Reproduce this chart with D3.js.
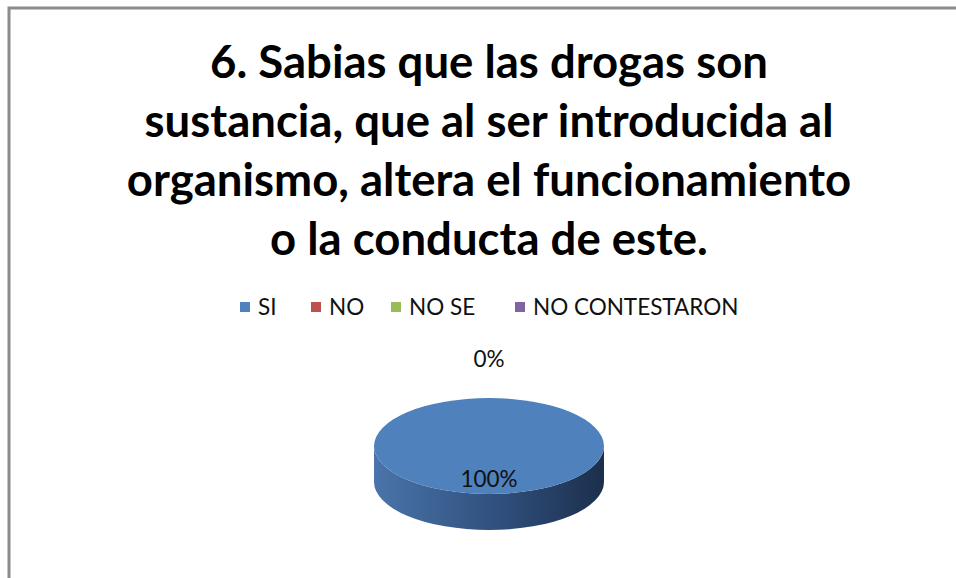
<!DOCTYPE html>
<html>
<head>
<meta charset="utf-8">
<script src="https://cdn.jsdelivr.net/npm/d3@7"></script>
<style>
  body { margin: 0; background: #fff; }
  svg { display: block; font-family: Lato, "Open Sans", sans-serif; }
</style>
</head>
<body>
<svg></svg>
<script>
const categories = ["SI", "NO", "NO SE", "NO CONTESTARON"];
const values = [100, 0, 0, 0];
const colors = ["#4F81BD", "#C0504D", "#9BBB59", "#8064A2"];
const titleLines = [
  "6. Sabias que las drogas son",
  "sustancia, que al ser introducida al",
  "organismo, altera el funcionamiento",
  "o la conducta de este."
];

const width = 956;
const height = 578;

const svg = d3.select("svg")
  .attr("width", width)
  .attr("height", height);

// frame (only top and left edges visible)
svg.append("path")
  .attr("d", `M9,${height} V8 H${width}`)
  .attr("fill", "none")
  .attr("stroke", "#8c8c8c")
  .attr("stroke-width", 3);

// title
svg.append("text")
  .attr("text-anchor", "middle")
  .attr("font-weight", "bold")
  .attr("font-size", 45.5)
  .attr("fill", "#000")
  .selectAll("tspan")
  .data(titleLines)
  .enter().append("tspan")
  .attr("x", 489)
  .attr("y", (d, i) => 78 + i * 59)
  .text(d => d);

// legend
const legendX = [240, 311, 391, 515];
const legend = svg.append("g")
  .selectAll("g")
  .data(categories)
  .enter().append("g")
  .attr("transform", (d, i) => `translate(${legendX[i]},307)`);

legend.append("rect")
  .attr("x", 0).attr("y", -5)
  .attr("width", 10).attr("height", 10)
  .attr("fill", (d, i) => colors[i]);

legend.append("text")
  .attr("x", 18)
  .attr("dy", "0.35em")
  .attr("font-size", 22.5)
  .attr("fill", "#111")
  .text(d => d);

// 3D pie
const cx = 489, cy = 446, rx = 115, ry = 48, depth = 36;
const pie = d3.pie().sort(null).startAngle(0).endAngle(2 * Math.PI);
const arcs = pie(values);

// angle 0 at top, clockwise
const px = a => cx + rx * Math.sin(a);
const py = a => cy - ry * Math.cos(a);

const defs = svg.append("defs");
const grad = defs.append("linearGradient")
  .attr("id", "side")
  .attr("x1", 0).attr("x2", 1).attr("y1", 0).attr("y2", 0);
grad.append("stop").attr("offset", "0%").attr("stop-color", "#4a74aa");
grad.append("stop").attr("offset", "55%").attr("stop-color", "#2f4f7c");
grad.append("stop").attr("offset", "100%").attr("stop-color", "#1c2f4c");

const pieG = svg.append("g");

// side walls: front half of ellipse (angles between PI/2 and 3PI/2)
arcs.forEach((a, i) => {
  if (a.endAngle - a.startAngle <= 0) return;
  const s = Math.max(a.startAngle, Math.PI / 2);
  const e = Math.min(a.endAngle, 3 * Math.PI / 2);
  if (e <= s) return;
  const large = (e - s) > Math.PI ? 1 : 0;
  const d = `M${px(s)},${py(s)}` +
    ` A${rx},${ry} 0 ${large} 1 ${px(e)},${py(e)}` +
    ` L${px(e)},${py(e) + depth}` +
    ` A${rx},${ry} 0 ${large} 0 ${px(s)},${py(s) + depth} Z`;
  pieG.append("path")
    .attr("d", d)
    .attr("fill", i === 0 ? "url(#side)" : d3.color(colors[i]).darker(1));
});

// top faces
arcs.forEach((a, i) => {
  const span = a.endAngle - a.startAngle;
  if (span <= 0) return;
  let d;
  if (span >= 2 * Math.PI - 1e-6) {
    d = `M${cx - rx},${cy} A${rx},${ry} 0 1 1 ${cx + rx},${cy} A${rx},${ry} 0 1 1 ${cx - rx},${cy} Z`;
  } else {
    const large = span > Math.PI ? 1 : 0;
    d = `M${cx},${cy} L${px(a.startAngle)},${py(a.startAngle)}` +
      ` A${rx},${ry} 0 ${large} 1 ${px(a.endAngle)},${py(a.endAngle)} Z`;
  }
  pieG.append("path")
    .attr("d", d)
    .attr("fill", colors[i]);
});

// data labels (zero slices share one spot, draw it once)
const total = d3.sum(values);
const seen = new Set();
arcs.forEach((a, i) => {
  const span = a.endAngle - a.startAngle;
  const mid = (a.startAngle + a.endAngle) / 2;
  let x, y;
  if (span >= 2 * Math.PI - 1e-6) {
    x = cx; y = cy + 33;
  } else if (span <= 0) {
    x = px(a.startAngle); y = py(a.startAngle) - 39;
  } else {
    x = cx + rx * 0.6 * Math.sin(mid); y = cy - ry * 0.6 * Math.cos(mid);
  }
  const key = Math.round(x) + "," + Math.round(y);
  if (seen.has(key)) return;
  seen.add(key);
  svg.append("text")
    .attr("x", x)
    .attr("y", y)
    .attr("dy", "0.35em")
    .attr("text-anchor", "middle")
    .attr("font-size", 22.5)
    .attr("fill", "#111")
    .text(d3.format(".0%")(values[i] / total));
});
</script>
</body>
</html>
